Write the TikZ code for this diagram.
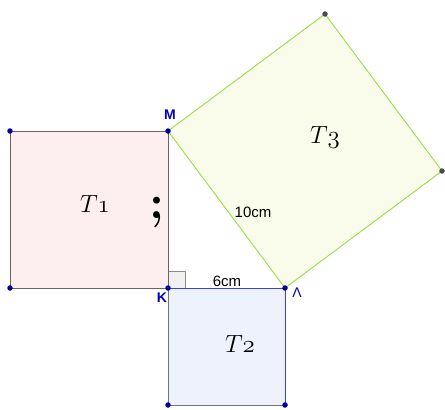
\documentclass[tikz,border=0pt]{standalone}
\usepackage{fontspec}
\newfontfamily\lab{Liberation Sans}
\newcommand{\osn}[1]{{\fontencoding{OML}\fontfamily{cmm}\fontseries{m}\fontshape{it}\selectfont #1}}
\begin{document}
\begin{tikzpicture}[x=1pt,y=-1pt,
  vlab/.style={text=blue!75!black,font=\lab\bfseries\fontsize{14}{16}\selectfont},
  tlab/.style={font=\fontsize{26}{30}\selectfont},
  clab/.style={font=\lab\fontsize{15}{17}\selectfont},
  bdot/.style={circle,fill=blue!60!black,inner sep=0pt,minimum size=5.5pt},
  gdot/.style={circle,fill=black!70,inner sep=0pt,minimum size=5.5pt}]
\useasboundingbox (0,0) rectangle (445,410);
\definecolor{pinkf}{HTML}{FDEFEF}
\definecolor{bluef}{HTML}{EEF2FC}
\definecolor{greenf}{HTML}{F9FCEB}
\definecolor{greenl}{HTML}{99DD44}
\definecolor{bluel}{HTML}{3344DD}
\coordinate (A) at (10,131);
\coordinate (B) at (10,288);
\coordinate (M) at (168,131);
\coordinate (K) at (168,288);
\coordinate (L) at (285,288);
\coordinate (C) at (285,405);
\coordinate (D) at (168,405);
\coordinate (P) at (325,14);
\coordinate (Q) at (442,171);
% fills
\fill[pinkf] (A) -- (M) -- (K) -- (B) -- cycle;
\fill[bluef] (K) -- (L) -- (C) -- (D) -- cycle;
\fill[greenf] (M) -- (P) -- (Q) -- (L) -- cycle;
% right angle mark
\draw[black!45,fill=black!6] (168,271) rectangle (185,288);
% edges
\draw[black!60,line width=0.9pt] (M) -- (A) -- (B) -- (K) -- (M);
\draw[black!55,line width=0.9pt] (K) -- (D) -- (C);
\draw[bluel,line width=0.9pt] (K) -- (L) -- (C);
\draw[greenl,line width=0.9pt] (M) -- (P) -- (Q) -- (L) -- (M);
% dots
\foreach \p in {A,B,M,K,L,C,D} \node[bdot] at (\p) {};
\foreach \p in {P,Q} \node[gdot] at (\p) {};
% labels
\node[vlab] (lM) at (170,115) {M};
\node[vlab] (lK) at (162,298) {K};
\node[vlab,font=\lab\fontsize{14}{16}\selectfont] (lL) at (297,293) {Λ};
\node[clab] (l10) at (253,212) {10cm};
\node[clab] (l6) at (227,281) {6cm};
\node[tlab] (t1) at (95,204) {$T$\osn{1}};
\node[tlab] (t2) at (240,344) {$T$\osn{2}};
\node[tlab] (t3) at (325,137) {$T$\osn{3}};
\node[font=\bfseries\fontsize{48}{50}\selectfont] (sc) at (157,212) {;};
\end{tikzpicture}
\end{document}
